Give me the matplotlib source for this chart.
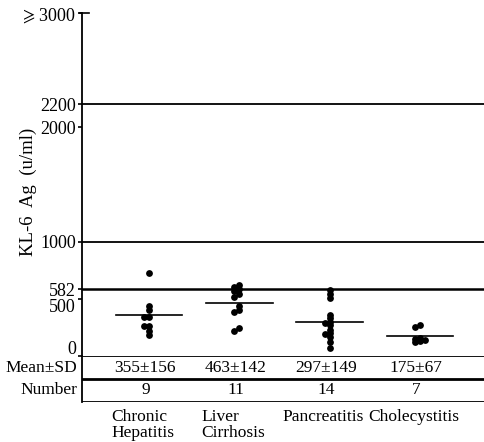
import numpy as np
import matplotlib.pyplot as plt
from matplotlib.transforms import ScaledTranslation, blended_transform_factory

plt.rcParams["font.family"] = ["Liberation Serif", "DejaVu Serif", "DejaVu Sans"]
plt.rcParams["mathtext.fontset"] = "dejavuserif"

# KL-6 antigen levels (u/ml) by disease group
groups = ["Chronic\nHepatitis", "Liver\nCirrhosis", "Pancreatitis", "Cholecystitis"]
chronic_hepatitis = [723, 440, 402, 344, 344, 265, 265, 221, 184]
liver_cirrhosis = [625, 600, 585, 565, 540, 515, 440, 400, 385, 245, 220]
pancreatitis = [580, 545, 505, 360, 330, 300, 285, 270, 230, 200, 195, 165, 125, 70]
cholecystitis = [270, 255, 160, 150, 140, 130, 120]
values = [chronic_hepatitis, liver_cirrhosis, pancreatitis, cholecystitis]

means = [355, 463, 297, 175]
sds = [156, 142, 149, 67]
counts = [9, 11, 14, 7]

yticks = [0, 500, 582, 1000, 2000, 2200, 3000]
ytick_labels = ["0", "500", "582", "1000", "2000", "2200", r"$\geqslant$3000"]
ref_lines = [582, 1000, 2200]

fig = plt.figure(figsize=(4.85, 4.42), dpi=100)
ax = fig.add_axes([82 / 485, 86 / 442, 403 / 485, 343 / 442])
tab = fig.add_axes([82 / 485, 40 / 442, 403 / 485, 46 / 442])

xlim = (-0.742, 3.72)
ax.set_xlim(*xlim)
ax.set_ylim(0, 3000)
for s in ["top", "right", "bottom"]:
    ax.spines[s].set_visible(False)
ax.spines["left"].set_linewidth(1.3)
ax.set_xticks([])
ax.set_yticks(yticks, ytick_labels)
ax.tick_params(axis="y", direction="out", length=3, width=1.2, pad=1.5, labelsize=13)

# nudge the crowded labels near the bottom apart
shifts = {"500": -7, "0": 8}
for lab in ax.get_yticklabels():
    dy = shifts.get(lab.get_text(), 0)
    if dy:
        lab.set_transform(lab.get_transform() + ScaledTranslation(0, dy / 100, fig.dpi_scale_trans))

trans = blended_transform_factory(ax.transAxes, ax.transData)
ax.plot([-0.006, 0.018], [3000, 3000], color="black", lw=1.2, transform=trans, clip_on=False)

for y in ref_lines:
    ax.axhline(y, color="black", lw=1.8 if y == 582 else 1.3)

ax.set_ylabel("KL-6  Ag  (u/ml)", fontsize=13.5)
ax.yaxis.set_label_coords(-0.112, 0.478)

# simple swarm layout so dots with close values sit side by side
fig.canvas.draw()
p0 = ax.transData.transform((0, 0))
p1 = ax.transData.transform((1, 1))
px_x = p1[0] - p0[0]
px_y = p1[1] - p0[1]
diam = 5.5


def swarm(vals):
    placed = []
    offs = []
    for v in vals:
        y = v * px_y
        for k in [0, -1, 1, -2, 2, -3, 3]:
            x = k * diam * 0.9
            if all(np.hypot(x - px, y - py) >= diam * 0.6 for px, py in placed):
                break
        placed.append((x, y))
        offs.append(x / px_x)
    return np.array(offs)


for i, vals in enumerate(values):
    dx = swarm(vals)
    ax.scatter(i + dx, vals, s=24, color="black", zorder=3, linewidths=0)
    ax.plot([i - 0.37, i + 0.37], [means[i], means[i]], color="black", lw=1.2)

# summary table below the axis
tab.set_xlim(*xlim)
tab.set_ylim(0, 2)
for s in ["top", "right", "bottom"]:
    tab.spines[s].set_visible(False)
tab.spines["left"].set_linewidth(1.3)
tab.set_xticks([])
tab.set_yticks([])
tab.axhline(2, color="black", lw=1.3)
tab.axhline(1, color="black", lw=2.0)
tab.axhline(0, color="black", lw=1.3)

for i in range(len(groups)):
    tab.text(i - 0.04, 1.5, f"{means[i]}±{sds[i]}", ha="center", va="center", fontsize=12.5)
    tab.text(i - 0.04, 0.5, str(counts[i]), ha="center", va="center", fontsize=12.5)
    tab.text(i - 0.07, -0.3, groups[i], ha="center", va="top", multialignment="left",
             fontsize=12.5, linespacing=1.0)

ttrans = blended_transform_factory(tab.transAxes, tab.transData)
tab.text(-0.012, 1.5, "Mean±SD", ha="right", va="center", fontsize=12.5, transform=ttrans)
tab.text(-0.012, 0.5, "Number", ha="right", va="center", fontsize=12.5, transform=ttrans)

fig.savefig("out.png", dpi=100, facecolor="white")
